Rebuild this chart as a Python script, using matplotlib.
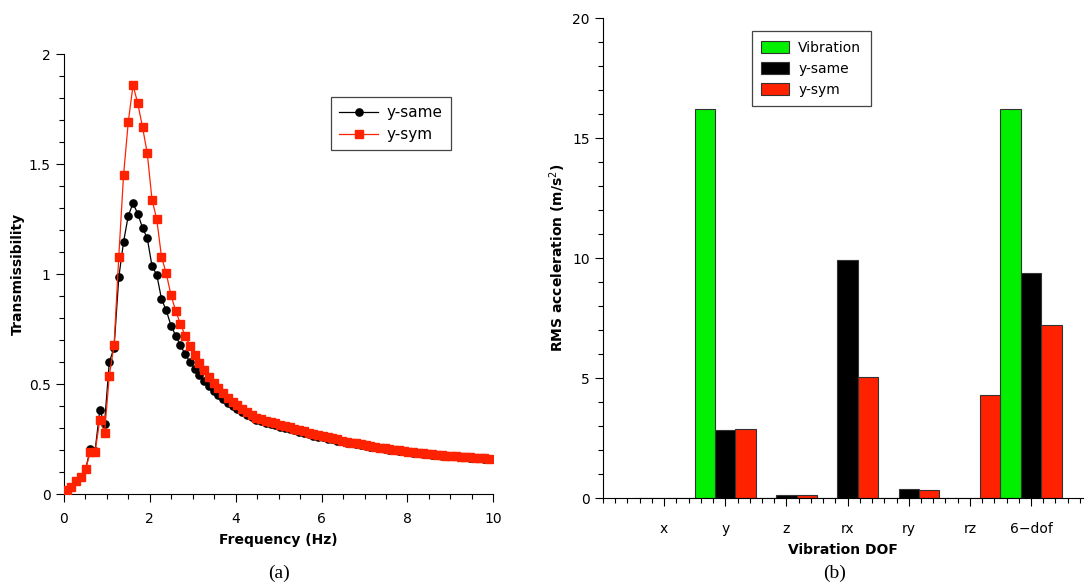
import matplotlib
matplotlib.use("Agg")
import matplotlib.pyplot as plt
from matplotlib.ticker import MultipleLocator, FuncFormatter
from matplotlib.patches import Patch

# ---------------- data (a) ----------------
freq = [0.060, 0.171, 0.281, 0.392, 0.502, 0.613, 0.723, 0.834, 0.944, 1.055,
        1.166, 1.276, 1.387, 1.497, 1.608, 1.718, 1.829, 1.940, 2.050, 2.161,
        2.271, 2.382, 2.492, 2.603, 2.713, 2.824, 2.935, 3.045, 3.156, 3.266,
        3.377, 3.487, 3.598, 3.708, 3.819, 3.930, 4.040, 4.151, 4.261, 4.372,
        4.482, 4.593, 4.703, 4.814, 4.925, 5.035, 5.146, 5.256, 5.367, 5.477,
        5.588, 5.699, 5.809, 5.920, 6.030, 6.141, 6.251, 6.362, 6.472, 6.583,
        6.694, 6.804, 6.915, 7.025, 7.136, 7.246, 7.357, 7.468, 7.578, 7.689,
        7.799, 7.910, 8.020, 8.131, 8.241, 8.352, 8.463, 8.573, 8.684, 8.794,
        8.905, 9.015, 9.126, 9.236, 9.347, 9.458, 9.568, 9.679, 9.789, 9.900]

y_same = [0.018, 0.030, 0.058, 0.078, 0.112, 0.205, 0.195, 0.382, 0.320, 0.599,
          0.666, 0.985, 1.146, 1.266, 1.322, 1.275, 1.211, 1.163, 1.037, 0.997,
          0.887, 0.835, 0.766, 0.720, 0.676, 0.635, 0.600, 0.569, 0.540, 0.514,
          0.491, 0.470, 0.450, 0.432, 0.415, 0.400, 0.386, 0.373, 0.360, 0.348,
          0.337, 0.330, 0.325, 0.319, 0.313, 0.307, 0.301, 0.295, 0.290, 0.284,
          0.278, 0.272, 0.266, 0.261, 0.257, 0.252, 0.248, 0.243, 0.239, 0.234,
          0.230, 0.226, 0.222, 0.219, 0.215, 0.212, 0.208, 0.204, 0.201, 0.199,
          0.197, 0.194, 0.191, 0.188, 0.186, 0.183, 0.181, 0.179, 0.177, 0.175,
          0.174, 0.173, 0.171, 0.169, 0.167, 0.166, 0.164, 0.162, 0.161, 0.159]

y_sym = [0.018, 0.030, 0.060, 0.079, 0.114, 0.190, 0.190, 0.337, 0.277, 0.538,
         0.676, 1.079, 1.450, 1.692, 1.859, 1.777, 1.669, 1.549, 1.339, 1.249,
         1.079, 1.003, 0.905, 0.832, 0.773, 0.719, 0.675, 0.634, 0.597, 0.564,
         0.534, 0.507, 0.482, 0.461, 0.438, 0.419, 0.403, 0.388, 0.373, 0.359,
         0.347, 0.340, 0.334, 0.328, 0.322, 0.315, 0.309, 0.303, 0.297, 0.291,
         0.285, 0.278, 0.272, 0.267, 0.262, 0.257, 0.253, 0.248, 0.243, 0.238,
         0.234, 0.230, 0.226, 0.222, 0.218, 0.215, 0.211, 0.207, 0.204, 0.202,
         0.199, 0.196, 0.193, 0.190, 0.188, 0.185, 0.183, 0.181, 0.179, 0.177,
         0.175, 0.174, 0.172, 0.170, 0.168, 0.167, 0.165, 0.163, 0.162, 0.160]

# ---------------- data (b) ----------------
dof_labels = ["x", "y", "z", "rx", "ry", "rz", "6\u2212dof"]
rms_vibration = [0.0, 16.2, 0.0, 0.0, 0.0, 0.0, 16.2]
rms_same = [0.02, 2.85, 0.13, 9.92, 0.37, 0.0, 9.38]
rms_sym = [0.02, 2.87, 0.12, 5.04, 0.33, 4.29, 7.2]

RED = "#ff2200"
GREEN = "#00f000"

plt.rcParams['font.family'] = ['DejaVu Sans']
plt.rcParams['font.size'] = 10

fig = plt.figure(figsize=(10.88, 5.87), dpi=100)
W, H = 1088.0, 587.0

# ---------- panel (a) ----------
ax1 = fig.add_axes([64 / W, 1 - 494 / H, 429.3 / W, 439.7 / H])
ax1.plot(freq, y_same, color="black", lw=0.9, marker="o", ms=5.2,
         mec="black", mfc="black", label="y-same", zorder=3)
ax1.plot(freq, y_sym, color=RED, lw=0.9, marker="s", ms=5.2,
         mec=RED, mfc=RED, label="y-sym", zorder=4)
ax1.set_xlim(0, 10)
ax1.set_ylim(0, 2)
ax1.xaxis.set_major_locator(MultipleLocator(2))
ax1.xaxis.set_minor_locator(MultipleLocator(0.5))
ax1.yaxis.set_major_locator(MultipleLocator(0.5))
ax1.yaxis.set_minor_locator(MultipleLocator(0.1))
fmt = FuncFormatter(lambda v, p: ("%g" % v))
ax1.xaxis.set_major_formatter(fmt)
ax1.yaxis.set_major_formatter(fmt)
for s in ["top", "right"]:
    ax1.spines[s].set_visible(False)
ax1.tick_params(which="major", direction="out", length=6, width=0.8, labelsize=10)
ax1.tick_params(which="minor", direction="out", length=3.5, width=0.8)
ax1.tick_params(axis="x", which="major", pad=7)
ax1.set_xlabel("Frequency (Hz)", fontweight="bold", fontsize=10, labelpad=5)
ax1.set_ylabel("Transmissibility", fontweight="bold", fontsize=10, labelpad=3)
leg1 = ax1.legend(loc="upper left", bbox_to_anchor=(331 / W, 1 - 96.7 / H),
                  bbox_transform=fig.transFigure, borderaxespad=0,
                  fancybox=False, framealpha=1, edgecolor="#444444",
                  numpoints=1, handlelength=2.5, fontsize=11,
                  borderpad=0.55, labelspacing=0.45, handletextpad=0.6)
leg1.get_frame().set_linewidth(0.9)

# ---------- panel (b) ----------
ax2 = fig.add_axes([603 / W, 1 - 498 / H, 480 / W, 480 / H])
pos = list(range(1, len(dof_labels) + 1))
bw = 1 / 3.0
ax2.bar([p - bw for p in pos], rms_vibration, width=bw, color=GREEN,
        edgecolor="#333333", linewidth=0.8, label="Vibration")
ax2.bar(pos, rms_same, width=bw, color="black",
        edgecolor="#333333", linewidth=0.8, label="y-same")
ax2.bar([p + bw for p in pos], rms_sym, width=bw, color=RED,
        edgecolor="#333333", linewidth=0.8, label="y-sym")
ax2.set_xlim(0, 7.85)
ax2.set_ylim(0, 20)
ax2.set_xticks(pos)
ax2.set_xticklabels(dof_labels)
ax2.xaxis.set_minor_locator(MultipleLocator(0.2))
ax2.yaxis.set_major_locator(MultipleLocator(5))
ax2.yaxis.set_minor_locator(MultipleLocator(1))
for s in ["top", "right"]:
    ax2.spines[s].set_visible(False)
ax2.tick_params(which="major", direction="out", length=6, width=0.8, labelsize=10)
ax2.tick_params(which="minor", direction="out", length=3.5, width=0.8)
ax2.tick_params(axis="x", which="major", pad=11)
ax2.set_xlabel("Vibration DOF", fontweight="bold", fontsize=10, labelpad=5)
ax2.set_ylabel("RMS acceleration (m/s$^2$)", fontweight="bold", fontsize=10,
               labelpad=3)
handles = [Patch(facecolor=GREEN, edgecolor="#333333", lw=0.8),
           Patch(facecolor="black", edgecolor="#333333", lw=0.8),
           Patch(facecolor=RED, edgecolor="#333333", lw=0.8)]
leg2 = ax2.legend(handles, ["Vibration", "y-same", "y-sym"], loc="upper left",
                  bbox_to_anchor=(751.7 / W, 1 - 31 / H),
                  bbox_transform=fig.transFigure, borderaxespad=0,
                  fancybox=False, framealpha=1, edgecolor="#444444",
                  handlelength=1.95, handleheight=0.95, fontsize=10,
                  borderpad=0.7, labelspacing=0.5, handletextpad=0.7)
leg2.get_frame().set_linewidth(0.9)

fig.text(279 / W, 1 - 573 / H, "(a)", family="Liberation Serif", fontsize=14,
         ha="center", va="center")
fig.text(835 / W, 1 - 573 / H, "(b)", family="Liberation Serif", fontsize=14,
         ha="center", va="center")

fig.savefig("out.png", dpi=100)
